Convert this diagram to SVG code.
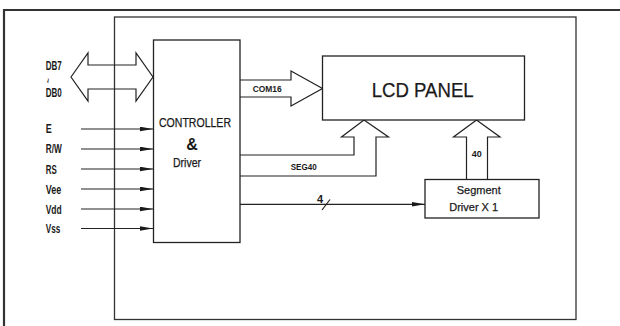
<svg xmlns="http://www.w3.org/2000/svg" width="620" height="326" viewBox="0 0 620 326">
<style>
.ln{fill:none;stroke:#222;stroke-width:1.2}
.bx{fill:#fff;stroke:#222;stroke-width:1.3}
.t{font-family:"Liberation Sans",Arial,sans-serif;fill:#1a1a1a}
.lb{font-size:12px;font-weight:bold}
.hv{stroke:#1a1a1a;stroke-width:0.25}
</style>
<defs>
<marker id="ah" markerUnits="userSpaceOnUse" markerWidth="14" markerHeight="6" refX="13" refY="2.5" orient="auto">
<path d="M0,0.2 L13,2.5 L0,4.8 Z" fill="#1a1a1a"/>
</marker>
</defs>
<rect width="620" height="326" fill="#fff"/>
<g id="frame">
<path d="M4,326 V10 H620" fill="none" stroke="#333" stroke-width="2.2"/>
<rect x="114.5" y="17" width="461.5" height="302.5" fill="none" stroke="#333" stroke-width="1.3"/>
</g>
<g id="connectors">
<polygon class="ln" points="71,77 88,53 88,65 136,65 136,53 153,77 136,101 136,89 88,89 88,101" fill="#fff"/>
<line class="ln" x1="81" y1="129" x2="153" y2="129" marker-end="url(#ah)"/>
<line class="ln" x1="81" y1="149" x2="153" y2="149" marker-end="url(#ah)"/>
<line class="ln" x1="81" y1="169" x2="153" y2="169" marker-end="url(#ah)"/>
<line class="ln" x1="81" y1="189" x2="153" y2="189" marker-end="url(#ah)"/>
<line class="ln" x1="81" y1="209" x2="153" y2="209" marker-end="url(#ah)"/>
<line class="ln" x1="81" y1="228.5" x2="153" y2="228.5" marker-end="url(#ah)"/>
<polyline class="ln" points="240,80 291,80 291,71 322.5,88.5 291,106 291,97 240,97"/>
<polyline class="ln" points="240,155 354,155 354,137 341.5,137 364,120 388.5,137 376,137 376,176 240,176"/>
<polyline class="ln" points="466.5,179.5 466.5,137 453.5,137 476.5,120 500,137 487.5,137 487.5,179.5"/>
<line class="ln" x1="240" y1="204.3" x2="425" y2="204.3" marker-end="url(#ah)"/>
<line class="ln" x1="322" y1="210" x2="330" y2="199.5"/>
<text class="t" x="252.7" y="92.3" font-size="9" font-weight="bold" textLength="29" lengthAdjust="spacingAndGlyphs">COM16</text>
<text class="t" x="290.7" y="170" font-size="8.5" font-weight="bold" textLength="26" lengthAdjust="spacingAndGlyphs">SEG40</text>
<text class="t" x="471.7" y="157.3" font-size="8.5" font-weight="bold" textLength="10" lengthAdjust="spacingAndGlyphs">40</text>
<text class="t" x="317" y="203.3" font-size="11" font-weight="bold">4</text>
</g>
<g id="labels">
<text class="t lb" x="45.7" y="70" textLength="16" lengthAdjust="spacingAndGlyphs">DB7</text>
<text class="t" x="0" y="0" font-size="9" transform="translate(44.5,78) rotate(90)">~</text>
<text class="t lb" x="45.7" y="96.7" textLength="16" lengthAdjust="spacingAndGlyphs">DB0</text>
<text class="t lb" x="45.7" y="132.5" textLength="6" lengthAdjust="spacingAndGlyphs">E</text>
<text class="t lb" x="45.7" y="153" textLength="16" lengthAdjust="spacingAndGlyphs">R/W</text>
<text class="t lb" x="45.7" y="173.5" textLength="11" lengthAdjust="spacingAndGlyphs">RS</text>
<text class="t lb" x="45.7" y="193.5" textLength="15.5" lengthAdjust="spacingAndGlyphs">Vee</text>
<text class="t lb" x="45.7" y="213.5" textLength="16" lengthAdjust="spacingAndGlyphs">Vdd</text>
<text class="t lb" x="45.7" y="232.5" textLength="14.5" lengthAdjust="spacingAndGlyphs">Vss</text>
</g>
<g id="controller">
<rect class="bx" x="153.5" y="40" width="86.5" height="202.5"/>
<text class="t hv" x="159" y="126.7" font-size="12" textLength="72" lengthAdjust="spacingAndGlyphs">CONTROLLER</text>
<text class="t" x="192" y="150" font-size="16" font-weight="bold" text-anchor="middle">&amp;</text>
<text class="t hv" x="173" y="166.7" font-size="12" textLength="28" lengthAdjust="spacingAndGlyphs">Driver</text>
</g>
<g id="lcd-panel">
<rect class="bx" x="322.5" y="56" width="202" height="64"/>
<text class="t hv" x="371.7" y="96.7" font-size="20" textLength="102" lengthAdjust="spacingAndGlyphs">LCD PANEL</text>
</g>
<g id="segment-driver">
<rect class="bx" x="425" y="179.5" width="114" height="38.5"/>
<text class="t hv" x="478.7" y="194" font-size="11" text-anchor="middle">Segment</text>
<text class="t hv" x="473.7" y="210.7" font-size="11" text-anchor="middle">Driver X 1</text>
</g>
</svg>
